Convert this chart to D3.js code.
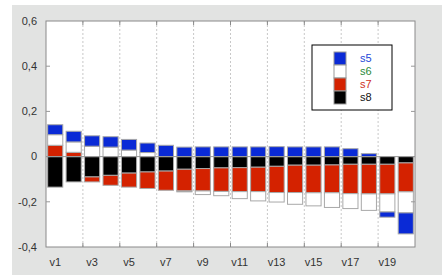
<!DOCTYPE html>
<html>
<head>
<meta charset="UTF-8">
<script src="https://d3js.org/d3.v7.min.js"></script>
<style>
  body { margin: 0; background: #fff; }
  svg text { font-family: "Liberation Sans", Arial, sans-serif; }
</style>
</head>
<body>
<svg id="chart" width="442" height="275"></svg>
<script>
// categories and series
const categories = d3.range(1, 21).map(i => "v" + i);
const s5 = [0.044, 0.047, 0.046, 0.046, 0.047, 0.042, 0.050, 0.042, 0.043, 0.043,
            0.043, 0.043, 0.044, 0.043, 0.043, 0.043, 0.035, 0.013, -0.023, -0.093];
const s6 = [0.047, 0.046, 0.046, 0.042, 0.029, 0.018, 0.000, -0.004, -0.016, -0.019,
            -0.031, -0.041, -0.042, -0.052, -0.058, -0.065, -0.066, -0.073, -0.080, -0.093];
const s7 = [0.050, 0.019, -0.022, -0.044, -0.062, -0.073, -0.085, -0.096, -0.099, -0.104,
            -0.106, -0.108, -0.116, -0.121, -0.122, -0.123, -0.130, -0.131, -0.131, -0.128];
const s8 = [-0.135, -0.112, -0.090, -0.083, -0.073, -0.068, -0.064, -0.056, -0.053, -0.050,
            -0.049, -0.047, -0.043, -0.038, -0.038, -0.037, -0.034, -0.034, -0.034, -0.028];
const seriesNames = ["s5", "s6", "s7", "s8"];
const yTicks = [-0.4, -0.2, 0, 0.2, 0.4, 0.6];
const xTickLabels = categories.filter((d, i) => i % 2 === 0);

const fills = {s5: "#0a2ad6", s6: "#ffffff", s7: "#d42200", s8: "#000000"};
const textColors = {s5: "#2447d8", s6: "#2a8a3a", s7: "#d0301a", s8: "#111111"};

const rows = categories.map((c, i) => ({cat: c, s5: s5[i], s6: s6[i], s7: s7[i], s8: s8[i]}));

const svg = d3.select("#chart");
const plot = {left: 46, right: 415, top: 21, bottom: 247};

// gray panel
svg.append("rect").attr("x", 12).attr("y", 5).attr("width", 430).attr("height", 270)
  .attr("fill", "#e2e3e2");
svg.append("rect").attr("x", plot.left).attr("y", plot.top)
  .attr("width", plot.right - plot.left).attr("height", plot.bottom - plot.top)
  .attr("fill", "#fff");

const x = d3.scaleBand().domain(categories).range([plot.left, plot.right])
  .paddingInner(0.18).paddingOuter(0.09);
const y = d3.scaleLinear().domain([-0.4, 0.6]).range([plot.bottom, plot.top]);

// vertical dashed grid between pairs
const gridX = d3.range(2, 20, 2).map(i => plot.left + i * x.step());
svg.append("g").selectAll("line").data(gridX).join("line")
  .attr("x1", d => d).attr("x2", d => d)
  .attr("y1", plot.top).attr("y2", plot.bottom)
  .attr("stroke", "#c8c8c8").attr("stroke-width", 1)
  .attr("stroke-dasharray", "2,2");

// stacked bars
const stack = d3.stack().keys(["s8", "s7", "s6", "s5"]).offset(d3.stackOffsetDiverging);
const layers = stack(rows);
svg.append("g").selectAll("g").data(layers).join("g")
  .attr("fill", d => fills[d.key])
  .selectAll("rect").data(d => d).join("rect")
  .attr("x", d => x(d.data.cat))
  .attr("width", x.bandwidth())
  .attr("y", d => y(Math.max(d[0], d[1])))
  .attr("height", d => Math.abs(y(d[0]) - y(d[1])))
  .attr("stroke", "#a8a8a8").attr("stroke-width", 1);

// zero line
svg.append("line").attr("x1", plot.left).attr("x2", plot.right)
  .attr("y1", y(0)).attr("y2", y(0)).attr("stroke", "#999");

// frame
svg.append("rect").attr("x", plot.left).attr("y", plot.top)
  .attr("width", plot.right - plot.left).attr("height", plot.bottom - plot.top)
  .attr("fill", "none").attr("stroke", "#8a8a8a");

// y axis ticks + labels (comma decimals)
const fmt = v => v === 0 ? "0" : d3.format(".1f")(v).replace(".", ",").replace("−", "-");
const yAxis = svg.append("g");
yTicks.forEach(t => {
  if (t !== -0.4 && t !== 0.6) {
    yAxis.append("line").attr("x1", plot.left).attr("x2", plot.left + 4)
      .attr("y1", y(t)).attr("y2", y(t)).attr("stroke", "#999");
    yAxis.append("line").attr("x1", plot.right - 4).attr("x2", plot.right)
      .attr("y1", y(t)).attr("y2", y(t)).attr("stroke", "#999");
  }
  yAxis.append("text").attr("x", 37).attr("y", y(t)).attr("dy", "0.35em")
    .attr("text-anchor", "end").attr("font-size", 11).attr("fill", "#333")
    .text(fmt(t));
});

// x ticks
gridX.forEach(g => {
  svg.append("line").attr("x1", g).attr("x2", g).attr("y1", plot.bottom - 4).attr("y2", plot.bottom)
    .attr("stroke", "#888");
  svg.append("line").attr("x1", g).attr("x2", g).attr("y1", plot.top).attr("y2", plot.top + 4)
    .attr("stroke", "#888");
});
svg.append("g").selectAll("text").data(xTickLabels).join("text")
  .attr("x", d => x(d) + x.bandwidth() / 2)
  .attr("y", 266)
  .attr("text-anchor", "middle").attr("font-size", 11).attr("fill", "#333")
  .text(d => d);

// legend
const rowH = 13;
const lg = svg.append("g");
lg.append("rect").attr("x", 312).attr("y", 45).attr("width", 80).attr("height", 65)
  .attr("fill", "#fff").attr("stroke", "#000");
seriesNames.forEach((s, i) => {
  lg.append("rect").attr("x", 334).attr("y", 52 + i * rowH).attr("width", 12).attr("height", rowH)
    .attr("fill", fills[s]).attr("stroke", "#999");
  lg.append("text").attr("x", 360).attr("y", 52 + rowH / 2 + i * rowH).attr("dy", "0.35em")
    .attr("font-size", 11).attr("fill", textColors[s]).text(s);
});
</script>
</body>
</html>
